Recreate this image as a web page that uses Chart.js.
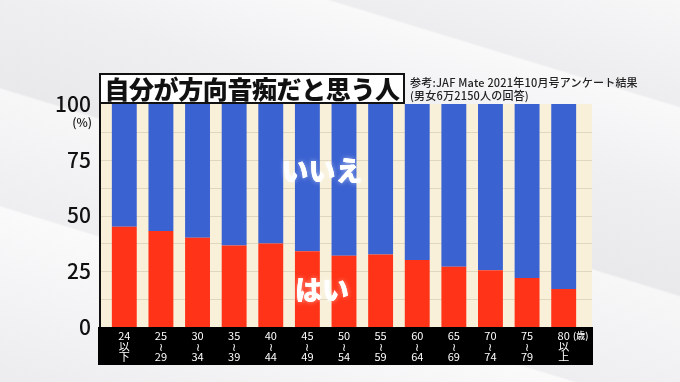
<!DOCTYPE html>
<html lang="ja">
<head>
    <meta charset="UTF-8" />
    <title>自分が方向音痴だと思う人</title>
    <style>
        * { margin: 0; padding: 0; box-sizing: border-box; }
        body {
            width: 680px;
            height: 382px;
            overflow: hidden;
            font-family: "Noto Sans CJK JP", sans-serif;
            background: linear-gradient(197deg, #f7f7f8 0%, #ededef 18%, #f9f9fa 18.4%, #efeff1 34%, #e9e9eb 50%, #f7f7f8 50.4%, #eeeef0 70%, #fafafb 70.4%, #ececee 100%);
        }
        .wrap { position: relative; width: 680px; height: 382px; }
        canvas { position: absolute; left: 0; top: 0; }
        .title-box {
            position: absolute;
            left: 99px;
            top: 73px;
            width: 306px;
            height: 31px;
            background: #fff;
            border: 2px solid #111;
            color: #111;
            font-size: 25px;
            font-weight: 900;
            line-height: 26px;
            text-align: center;
            letter-spacing: -0.4px;
            z-index: 2;
        }
        .source {
            position: absolute;
            left: 410px;
            top: 76px;
            font-size: 11px;
            line-height: 12.5px;
            color: #222;
            font-weight: 500;
            letter-spacing: 0.2px;
            z-index: 2;
        }
    </style>
</head>
<body>
    <div class="wrap">
        <canvas id="chart" width="680" height="382"></canvas>
        <div class="title-box">自分が方向音痴だと思う人</div>
        <div class="source">参考:JAF Mate 2021年10月号アンケート結果<br>(男女6万2150人の回答)</div>
    </div>
    <script src="https://cdn.jsdelivr.net/npm/chart.js"></script>
    <script>
        // 年代(歳)
        const ageLabels = [
            ['24', '以', '下'], ['25', '≀', '29'], ['30', '≀', '34'], ['35', '≀', '39'],
            ['40', '≀', '44'], ['45', '≀', '49'], ['50', '≀', '54'], ['55', '≀', '59'],
            ['60', '≀', '64'], ['65', '≀', '69'], ['70', '≀', '74'], ['75', '≀', '79'],
            ['80', '以', '上']
        ];
        // はい / いいえ (%)
        const yesValues = [45, 43, 40, 36.5, 37.5, 34, 32, 32.5, 30, 27, 25.5, 22, 17];
        const noValues  = [55, 57, 60, 63.5, 62.5, 66, 68, 67.5, 70, 73, 74.5, 78, 83];
        const yTickLabels = [0, 25, 50, 75, 100];

        const RED = '#ff3318';
        const BLUE = '#3b62d1';
        const CREAM = '#f8f0d9';

        // cream plot background, grid and black label band
        const backdrop = {
            id: 'backdrop',
            beforeDraw(chart) {
                const { ctx, chartArea, scales } = chart;
                const top = chartArea.top, bottom = chartArea.bottom;
                ctx.save();
                ctx.fillStyle = CREAM;
                ctx.fillRect(100, top, 492, bottom - top);
                ctx.strokeStyle = '#e0d7bf';
                ctx.lineWidth = 1;
                for (let v = 12.5; v < 100; v += 12.5) {
                    const y = Math.round(scales.y.getPixelForValue(v)) + 0.5;
                    ctx.beginPath();
                    ctx.moveTo(100, y);
                    ctx.lineTo(592, y);
                    ctx.stroke();
                }
                ctx.fillStyle = '#000';
                ctx.fillRect(98, bottom, 495, 38);
                ctx.fillStyle = '#111';
                ctx.fillRect(99, top, 2, bottom - top);
                ctx.restore();
            },
            afterDraw(chart) {
                const { ctx, scales } = chart;
                ctx.save();
                ctx.fillStyle = '#111';
                ctx.font = '500 12px "Noto Sans CJK JP"';
                ctx.textAlign = 'right';
                ctx.textBaseline = 'middle';
                ctx.fillText('(%)', 92, scales.y.getPixelForValue(100) + 18);
                ctx.fillStyle = '#fff';
                ctx.font = '500 9px "Noto Sans CJK JP"';
                ctx.textAlign = 'left';
                ctx.fillText('(歳)', 573, chart.chartArea.bottom + 9);

                // series labels
                const drawGlow = (text, xv, yv) => {
                    const x = scales.x.getPixelForValue(xv);
                    const y = scales.y.getPixelForValue(yv);
                    ctx.font = '900 27px "Noto Sans CJK JP"';
                    ctx.textAlign = 'center';
                    ctx.textBaseline = 'middle';
                    ctx.fillStyle = '#fff';
                    ctx.shadowColor = 'rgba(255,255,255,0.55)';
                    ctx.shadowBlur = 5;
                    ctx.fillText(text, x, y);
                    ctx.shadowBlur = 0;
                    ctx.fillText(text, x, y);
                };
                drawGlow('いいえ', 5.4, 70);
                drawGlow('はい', 5.4, 16.5);
                ctx.restore();
            }
        };

        new Chart(document.getElementById('chart'), {
            type: 'bar',
            data: {
                labels: ageLabels,
                datasets: [
                    { label: 'はい', data: yesValues, backgroundColor: RED },
                    { label: 'いいえ', data: noValues, backgroundColor: BLUE }
                ]
            },
            options: {
                responsive: false,
                animation: false,
                layout: { padding: { left: 0, right: 98, top: 104, bottom: 17 } },
                datasets: { bar: { barPercentage: 0.68, categoryPercentage: 1 } },
                plugins: { legend: { display: false }, tooltip: { enabled: false } },
                scales: {
                    x: {
                        stacked: true,
                        afterFit(s) { s.height = 38; },
                        grid: { display: false, drawTicks: false },
                        border: { display: false },
                        ticks: {
                            color: '#fff',
                            font: { family: '"Noto Sans CJK JP"', size: 11, lineHeight: '10.5px' },
                            padding: 4,
                            maxRotation: 0,
                            autoSkip: false
                        }
                    },
                    y: {
                        stacked: true,
                        min: 0,
                        max: 100,
                        afterFit(s) { s.width = 106; },
                        afterBuildTicks(s) { s.ticks = yTickLabels.map(v => ({ value: v })); },
                        grid: { display: false, drawTicks: false },
                        border: { display: false },
                        ticks: {
                            color: '#111',
                            padding: 15,
                            font: { family: '"Noto Sans CJK JP"', size: 21, weight: 500 }
                        }
                    }
                }
            },
            plugins: [backdrop]
        });
    </script>
</body>
</html>
